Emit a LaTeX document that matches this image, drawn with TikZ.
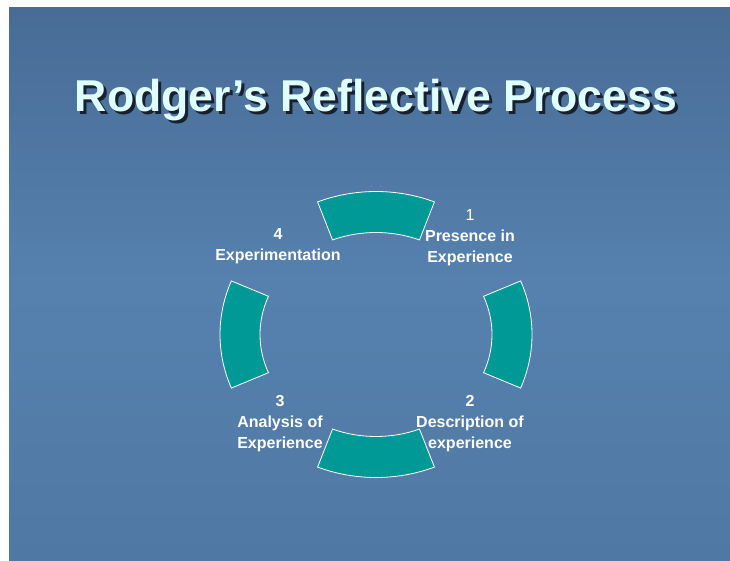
\documentclass[tikz,border=0pt]{standalone}
\usepackage{fontspec}
\setmainfont{Liberation Sans}
\usetikzlibrary{calc}
\definecolor{slideblue}{RGB}{86,129,174}
\definecolor{slidetop}{RGB}{72,108,150}
\definecolor{slidebot}{RGB}{80,120,164}
\definecolor{ringteal}{RGB}{0,153,150}
\definecolor{titlecyan}{RGB}{224,255,255}
\definecolor{titleshadow}{RGB}{22,32,46}

\begin{document}
\begin{tikzpicture}[
        x=1pt, y=1pt,
        seg/.style={fill=ringteal, draw=white, line width=0.8pt},
        lbl/.style={text=white, align=center, font=\bfseries\fontsize{16}{21}\selectfont},
        ttl/.style={anchor=base, font=\bfseries\fontsize{44.6}{48}\selectfont}
    ]
        \useasboundingbox (0,0) rectangle (730,560);
        \fill[white] (0,0) rectangle (730,560);
        % slide background
        \shade[top color=slidetop, bottom color=slidebot, middle color=slideblue] (9,0) rectangle (730,552);

        % title with drop shadow
        \node[ttl, text=titleshadow] (titleshadow) at (379,445) {Rodger’s Reflective Process};
        \node[ttl, text=titlecyan] (title) at (376,448) {Rodger’s Reflective Process};

        % four ring segments
        \coordinate (c) at (376,225.5);
        \foreach \m in {90,0,270,180}{
            \filldraw[seg] ($(c)+(\m-22:156 and 143)$)
                arc[start angle=\m-22, end angle=\m+22, x radius=156, y radius=143]
                -- ($(c)+(\m+22:116 and 102)$)
                arc[start angle=\m+22, end angle=\m-22, x radius=116, y radius=102]
                -- cycle;
        }

        \node[lbl] (presence) at (470,322) {{\mdseries 1}\\Presence in\\Experience};
        \node[lbl] (description) at (470,136) {2\\Description of\\experience};
        \node[lbl] (analysis) at (280,136) {3\\Analysis of\\Experience};
        \node[lbl] (experiment) at (278,313.5) {4\\Experimentation};
    \end{tikzpicture}
\end{document}
